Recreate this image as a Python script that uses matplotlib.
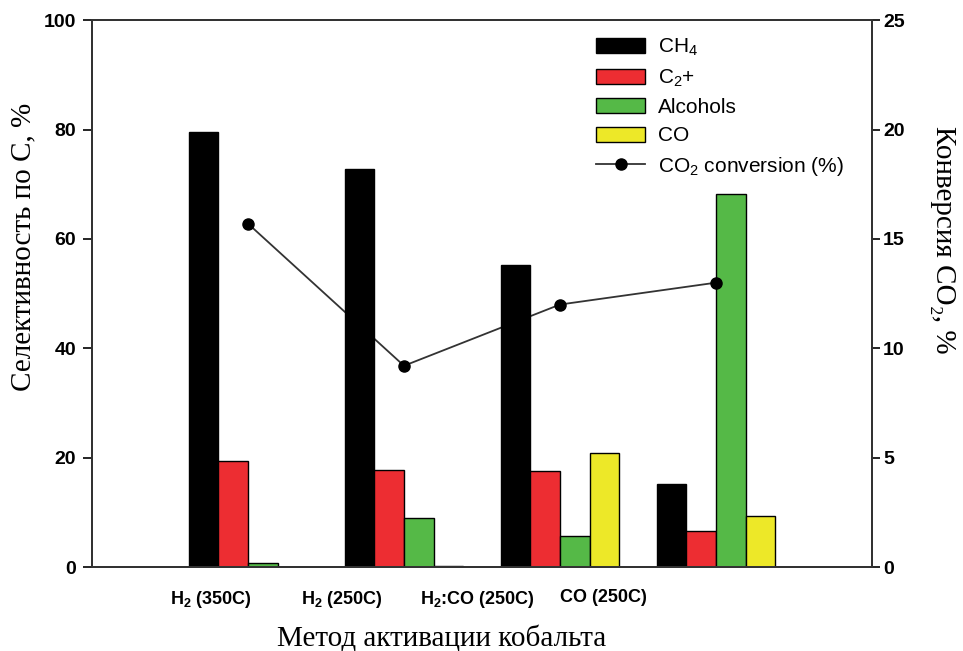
import numpy as np
import matplotlib
matplotlib.use('Agg')
import matplotlib.pyplot as plt
from matplotlib.patches import Patch
from matplotlib.lines import Line2D

plt.rcParams['font.family'] = ['Liberation Sans', 'DejaVu Sans']
plt.rcParams['mathtext.fontset'] = 'custom'
plt.rcParams['mathtext.rm'] = 'Liberation Sans'
plt.rcParams['mathtext.it'] = 'Liberation Sans:italic'
plt.rcParams['mathtext.bf'] = 'Liberation Sans:bold'

### Data
groups = [r'H$_\mathbf{2}$ (350C)', r'H$_\mathbf{2}$ (250C)',
          r'H$_\mathbf{2}$:CO (250C)', 'CO (250C)']
series_names = ['CH$_4$', 'C$_2$+', 'Alcohols', 'CO']
ch4 = [79.5, 72.7, 55.2, 15.2]
c2plus = [19.4, 17.7, 17.6, 6.6]
alcohols = [0.7, 9.0, 5.7, 68.2]
co = [0.0, 0.2, 20.8, 9.4]
co2_conversion = [15.7, 9.2, 12.0, 13.0]

colors = ['#000000', '#ED2D32', '#55B947', '#EDE828']

x = np.arange(1, len(groups) + 1)
width = 0.19

fig = plt.figure(figsize=(9.63, 6.51), dpi=100)
ax = fig.add_axes([0.0955, 0.129, 0.81, 0.84])
ax2 = ax.twinx()

### line behind the bars, markers on top
ax2.plot(x, co2_conversion, color='#333333', lw=1.3, zorder=1)
ax.set_zorder(ax2.get_zorder() + 1)
ax.patch.set_visible(False)

for i, vals in enumerate([ch4, c2plus, alcohols, co]):
	ax.bar(x + (i - 1.5) * width, vals, width, color=colors[i],
		edgecolor='black', linewidth=1.0, zorder=2)

ax.plot(x, co2_conversion, 'o', color='black', markersize=8,
	transform=ax2.transData, zorder=5, clip_on=False)

ax.set_xlim(0, 5)
ax.set_ylim(0, 100)
ax2.set_ylim(0, 25)
ax.set_yticks([0, 20, 40, 60, 80, 100])
ax2.set_yticks([0, 5, 10, 15, 20, 25])

label_pos = [0.76, 1.60, 2.47, 3.28]
ax.set_xticks(label_pos)
ax.set_xticklabels(groups, fontsize=13, fontweight='bold')
ax.tick_params(axis='x', length=0, pad=16)
ax.tick_params(axis='y', direction='out', length=6.5, width=1.2,
	labelsize=14, pad=5)
ax2.tick_params(axis='y', direction='out', length=6, width=1.2,
	labelsize=14, pad=2)
for lab in ax.get_yticklabels() + ax2.get_yticklabels():
	lab.set_fontweight('bold')

for a in (ax, ax2):
	for s in a.spines.values():
		s.set_color('#333333')
		s.set_linewidth(1.4)

serif = ['Liberation Serif', 'DejaVu Serif']
ax.set_ylabel('Селективность по С, %', fontsize=21, family=serif,
	va='center')
ax.yaxis.set_label_coords(-0.088, 0.585)
ax2.set_ylabel('Конверсия CO₂, %', fontsize=21, family=serif,
	rotation=270, va='center')
ax2.yaxis.set_label_coords(1.091, 0.598)
ax.set_xlabel('Метод активации кобальта', fontsize=21, family=serif,
	va='center')
ax.xaxis.set_label_coords(0.448, -0.131)

handles = [Patch(facecolor=c, edgecolor='black', linewidth=1.0) for c in colors]
handles.append(Line2D([], [], color='#333333', lw=1.3, marker='o',
	markersize=8, markerfacecolor='black', markeredgecolor='black'))
labels = series_names + ['CO$_2$ conversion (%)']
ax.legend(handles, labels, loc='upper left', bbox_to_anchor=(0.636, 0.985),
	frameon=False, fontsize=15, handlelength=2.35, handleheight=0.72,
	labelspacing=0.45, handletextpad=0.6, borderaxespad=0)

fig.savefig('out.png', dpi=100)
